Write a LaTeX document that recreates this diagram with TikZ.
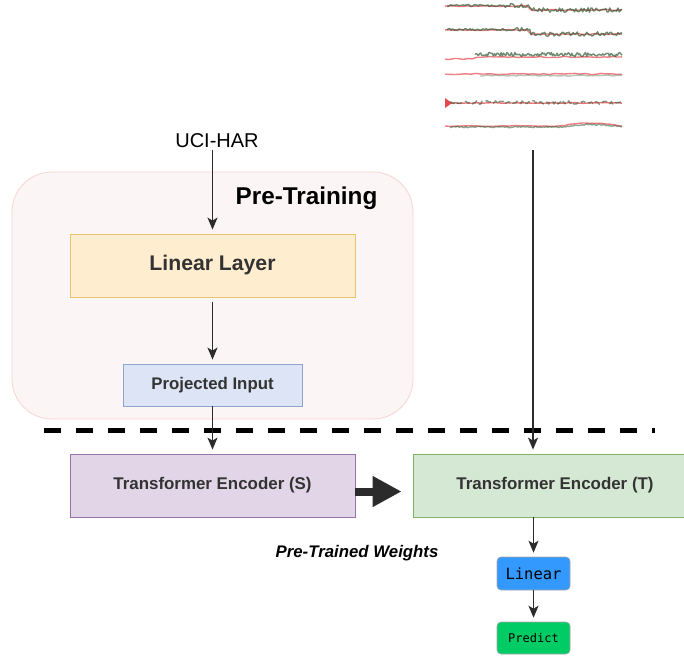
\documentclass[tikz,border=0pt]{standalone}
\usepackage{fontspec}
\setmainfont{Liberation Sans}
\setmonofont{DejaVu Sans Mono}
\usetikzlibrary{arrows.meta}

\definecolor{txt}{HTML}{333333}
\definecolor{arrowc}{HTML}{2B2B2B}
\definecolor{prefill}{HTML}{FCF5F5}
\definecolor{preline}{HTML}{F5D5D3}
\definecolor{yelfill}{HTML}{FFEDCF}
\definecolor{yelline}{HTML}{E6C46E}
\definecolor{blufill}{HTML}{DCE4F5}
\definecolor{bluline}{HTML}{8DA5CF}
\definecolor{purfill}{HTML}{E1D5E7}
\definecolor{purline}{HTML}{9673A6}
\definecolor{grnfill}{HTML}{D5E8D4}
\definecolor{grnline}{HTML}{82B366}
\definecolor{linfill}{HTML}{3399FF}
\definecolor{predfill}{HTML}{00CC66}
\definecolor{sigred}{HTML}{E8474F}
\definecolor{siggreen}{HTML}{2F5A34}

\begin{document}
\begin{tikzpicture}[x=1pt, y=-1pt,
  box/.style={draw, line width=0.8pt, inner sep=0pt, text=txt, font=\bfseries},
  smallbox/.style={draw=black!35, line width=0.6pt, rounded corners=4pt, inner sep=0pt,
    minimum width=73pt, text=black},
  conn/.style={draw=arrowc, line width=1.5pt,
    -{Stealth[length=12pt, width=10pt, inset=3pt]}, shorten >=4pt}
]
\useasboundingbox (0,0) rectangle (684,657);

% pre-training frame
\node[draw=preline, fill=prefill, line width=0.8pt, rounded corners=40pt,
      minimum width=401pt, minimum height=247pt, inner sep=0pt] (pre) at (212.5,295.5) {};
\node[font=\bfseries\fontsize{24.3}{28}\selectfont, text=black] (pretitle) at (306.5,198) {Pre-Training};

% input label
\node[font=\fontsize{20}{24}\selectfont, text=black, inner sep=2pt] (uci) at (217,141) {UCI-HAR};

% blocks
\node[box, draw=yelline, fill=yelfill, minimum width=285pt, minimum height=63pt,
      font=\bfseries\fontsize{21.2}{24}\selectfont] (lin) at (212.5,265.5) {Linear Layer};
\node[box, draw=bluline, fill=blufill, minimum width=179pt, minimum height=42pt,
      font=\bfseries\fontsize{16.8}{20}\selectfont] (proj) at (212.5,385) {Projected Input};
\node[box, draw=purline, fill=purfill, minimum width=285pt, minimum height=63pt,
      font=\bfseries\fontsize{16.9}{19}\selectfont] (tes) at (212.5,485.5) {Transformer Encoder (S)};
% the T encoder runs past the right edge of the page
\node[box, draw=grnline, fill=grnfill, minimum width=284pt, minimum height=63pt,
      font=\bfseries\fontsize{16.9}{19}\selectfont] (tet) at (555,485.5) {Transformer Encoder (T)};

\node[smallbox, fill=linfill, minimum height=33pt,
      font=\ttfamily\fontsize{15.5}{18}\selectfont] (head) at (533.5,573.5) {Linear};
\node[smallbox, fill=predfill, minimum height=32pt,
      font=\ttfamily\fontsize{12}{14}\selectfont] (pred) at (533.5,638) {Predict};

\node[font=\bfseries\itshape\fontsize{16.8}{19}\selectfont, text=black] (ptw) at (357,553) {Pre-Trained Weights};

% sensor signal traces
\node[minimum width=177pt, minimum height=130pt, inner sep=0pt] (sig) at (533.5,65) {};
\coordinate (sigout) at (533,150);
\begin{scope}[line width=1.4pt, line join=round]
  \pgfmathsetseed{7}
  % traces 1 and 2: raised start, step down near the middle
  \foreach \yy in {8,32}{
    \draw[sigred, opacity=.7] plot[smooth, domain=445:622, samples=40]
      (\x, {\yy + (\x<530 ? -2 : 2) + 0.5*rand});
    \draw[siggreen, opacity=.7] plot[domain=447:622, samples=130]
      (\x, {\yy + (\x<530 ? -2.5 : 2) + (\x<505 ? 1.0 : 2.2)*rand});
  }
  % trace 3
  \draw[sigred, opacity=.7] plot[smooth, domain=445:622, samples=40]
    (\x, {57 + (\x<475 ? 2 : 0) + 0.5*rand});
  \draw[siggreen, opacity=.7] plot[domain=475:622, samples=130]
    (\x, {54.5 + 2*rand});
  % trace 4
  \draw[sigred, opacity=.7] plot[smooth, domain=445:622, samples=35]
    (\x, {74 + 0.6*rand});
  \draw[siggreen, opacity=.35] plot[domain=480:622, samples=60]
    (\x, {75.5 + 0.6*rand});
  % trace 5
  \draw[sigred, opacity=.75] plot[smooth, domain=445:622, samples=35]
    (\x, {103 + 0.4*rand});
  \fill[sigred] (445,98) -- (452,103) -- (445,108) -- cycle;
  \draw[siggreen, opacity=.6, dash pattern=on 6pt off 3pt] plot[domain=450:622, samples=130]
    (\x, {102.5 + 1.8*rand});
  % trace 6
  \draw[sigred, opacity=.7] plot[smooth, domain=445:622, samples=35]
    (\x, {126 + (\x>560 ? -3*sin((\x-560)*2.9) : 0) + 0.4*rand});
  \draw[siggreen, opacity=.55] plot[domain=450:622, samples=110]
    (\x, {127 + (\x>560 ? -2.5*sin((\x-560)*2.9) : 0) + 0.7*rand});
\end{scope}

% stage separator
\coordinate (sepL) at (44,430);
\coordinate (sepR) at (655,430);
\draw[black, line width=5pt, dash pattern=on 17pt off 15pt] (sepL) -- (sepR);

% connectors
\draw[conn] (uci.south -| lin.north) -- (lin.north);
\draw[conn] ([yshift=-5pt]lin.south) -- (proj.north);
\draw[conn] (proj.south) -- (tes.north);
\draw[conn] (sigout) -- (sigout |- tet.north);
\draw[conn] (tet.south -| head.north) -- (head.north);
\draw[conn] (head.south) -- (pred.north);

% weight transfer
\draw[arrowc, line width=8pt, -{Triangle[length=29pt, width=29pt]}, shorten >=11pt]
  ([yshift=-6pt]tes.east) -- ([yshift=-6pt]tet.west);
\end{tikzpicture}
\end{document}
